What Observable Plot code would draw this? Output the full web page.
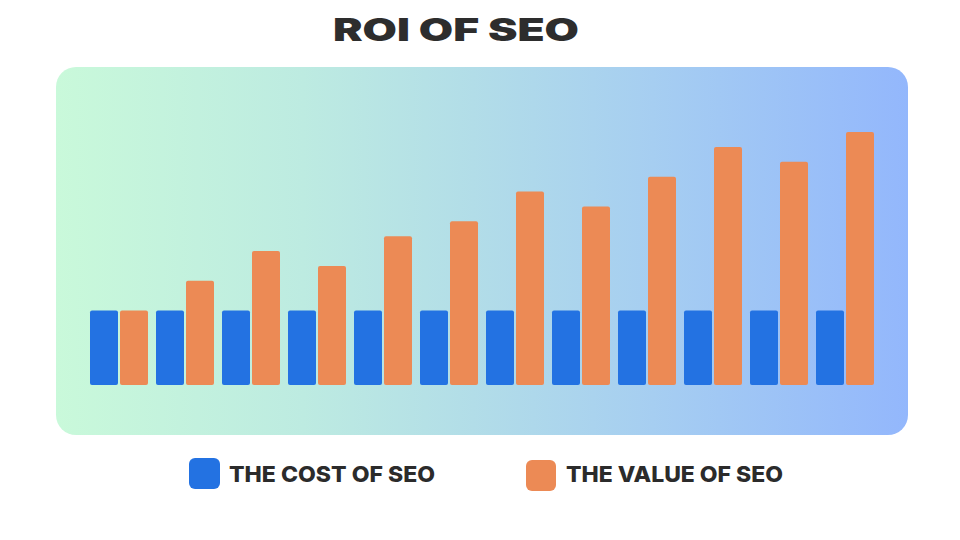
<!DOCTYPE html>
<html>
<head>
<meta charset="utf-8">
<script src="https://cdn.jsdelivr.net/npm/d3@7"></script>
<script src="https://cdn.jsdelivr.net/npm/@observablehq/plot@0.6"></script>
<style>
  html, body { margin: 0; padding: 0; background: #fff; }
  #root { position: relative; width: 960px; height: 540px; overflow: hidden; font-family: Inter, "Open Sans", sans-serif; }
  #title { position: absolute; left: 333px; top: 14px; font-size: 31px; font-weight: 900; color: #2d2d2d; white-space: nowrap; transform-origin: 0 0; line-height: 1; }
  #panel { position: absolute; left: 56px; top: 67px; width: 852px; height: 368px; border-radius: 20px;
    background: linear-gradient(to right, #c9f9da 0%, #bdebe1 29%, #b2dde8 49%, #a6cef1 70%, #93b7fc 100%); }
  #chart { position: absolute; left: 0; top: 67px; }
  .sw { position: absolute; width: 31px; height: 31px; border-radius: 6px; }
  .lab { position: absolute; font-size: 22px; font-weight: 800; color: #2b2b2b; white-space: nowrap; transform-origin: 0 0; line-height: 1; }
</style>
</head>
<body>
<div id="root">
  <div id="title">ROI OF SEO</div>
  <div id="panel"></div>
  <div id="chart"></div>
  <div class="sw" style="left:189px;top:458px;background:#2372e2"></div>
  <div class="lab" id="lab0" style="left:229px;top:463px">THE COST OF SEO</div>
  <div class="sw" style="left:526px;top:460px;width:30px;background:#ec8a55"></div>
  <div class="lab" id="lab1" style="left:566px;top:463px">THE VALUE OF SEO</div>
</div>
<script>
// Data
const periods = ["P1","P2","P3","P4","P5","P6","P7","P8","P9","P10","P11","P12"];
const seriesNames = ["The cost of SEO", "The value of SEO"];
const cost  = [5, 5, 5, 5, 5, 5, 5, 5, 5, 5, 5, 5];
const value = [5, 7, 9, 8, 10, 11, 13, 12, 14, 16, 15, 17];
const colors = ["#2372e2", "#ec8a55"];

const table = periods.flatMap((p, i) => [
  {period: p, series: seriesNames[0], v: cost[i]},
  {period: p, series: seriesNames[1], v: value[i]}
]);

const chart = Plot.plot({
  width: 960,
  height: 368,
  marginLeft: 89,
  marginRight: 86,
  marginTop: 65,
  marginBottom: 50,
  style: {background: "transparent", overflow: "visible"},
  fx: {domain: periods, paddingInner: 0.1225, paddingOuter: 0, axis: null},
  x: {domain: seriesNames, paddingInner: 0.08, paddingOuter: 0, axis: null},
  y: {domain: [0, 17], axis: null},
  color: {domain: seriesNames, range: colors},
  marks: [
    Plot.barY(table, {fx: "period", x: "series", y: "v", fill: "series", rx: 2})
  ]
});
document.getElementById("chart").appendChild(chart);

// Stretch text to the reference widths
function fit(id, w) {
  const el = document.getElementById(id);
  const r = el.getBoundingClientRect();
  el.style.transform = `scaleX(${w / r.width})`;
}
fit("title", 246);
fit("lab0", 206);
fit("lab1", 217);
</script>
</body>
</html>
